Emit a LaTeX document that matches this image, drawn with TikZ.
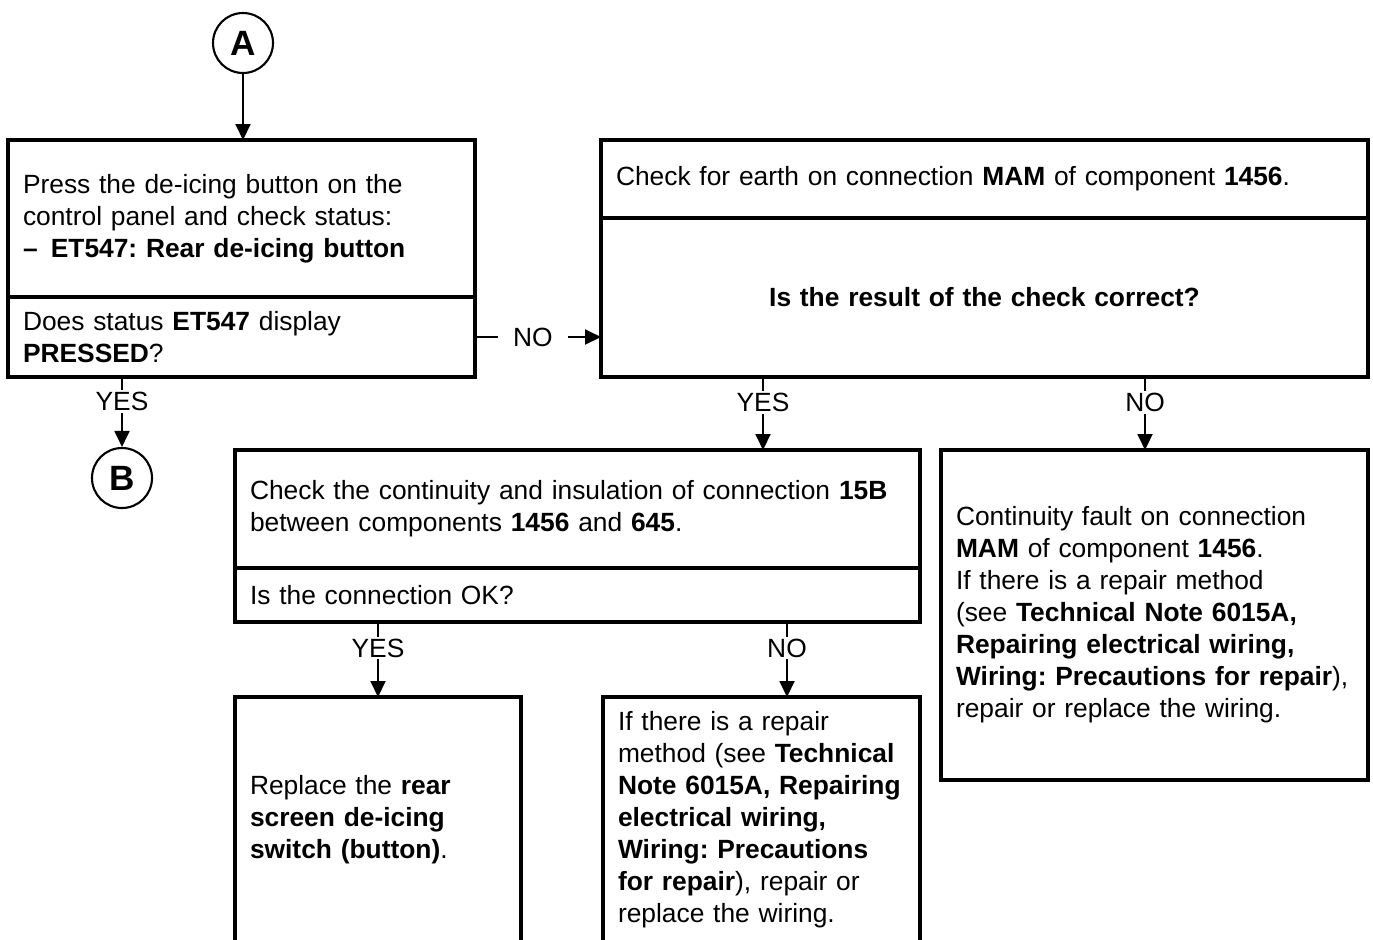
\documentclass[tikz,border=0pt]{standalone}
\usepackage{fontspec}
\setmainfont{Liberation Sans}
\usetikzlibrary{arrows.meta, positioning}
\newcommand\bodyfont{\fontsize{15pt}{18.2pt}\selectfont}
\frenchspacing

\begin{document}
\begin{tikzpicture}[
    stepbox/.style={draw, line width=1.8pt, outer sep=0pt, inner xsep=0.3cm, inner ysep=0pt, align=left, font=\bodyfont},
    conn/.style={draw, circle, line width=1.2pt, minimum size=1.2cm, inner sep=0pt, font=\fontsize{20pt}{20pt}\selectfont\bfseries},
    flow/.style={-{Triangle[length=3.2mm, width=3mm]}, line width=1.1pt},
    answer/.style={fill=white, inner xsep=0.3cm, inner ysep=1pt, font=\bodyfont, pos=.35},
]
\useasboundingbox (0,0) rectangle (27.46,-18.78);
\clip (0,0) rectangle (27.46,-18.78);

% Entry
\node[conn] (ptA) at (4.86,-0.86) {A};

% First test
\node[stepbox, anchor=north west, minimum width=9.34cm, minimum height=3.14cm, text width=8.74cm] (press) at (0.16,-2.8) {Press the de-icing button on the\\control panel and check status:\\\textbf{--\enspace ET547: Rear de-icing button}};
\node[stepbox, below=0pt of press, minimum width=9.34cm, minimum height=1.6cm, text width=8.74cm] (status) {Does status \textbf{ET547} display\\\textbf{PRESSED}?};

% Earth check
\node[stepbox, right=2.52cm of press.north east, anchor=north west, minimum width=15.34cm, minimum height=1.56cm, text width=14.74cm] (earth) {Check for earth on connection \textbf{MAM} of component \textbf{1456}.};
\node[stepbox, below=0pt of earth, minimum width=15.34cm, minimum height=3.18cm, text width=14.74cm, align=center] (result) {\textbf{Is the result of the check correct?}};

% Exit
\node[conn] (ptB) at (2.44,-9.56) {B};

% Wiring check
\node[stepbox, anchor=north west, minimum width=13.7cm, minimum height=2.36cm, text width=13.1cm] (cont) at (4.7,-9.0) {Check the continuity and insulation of connection \textbf{15B}\\between components \textbf{1456} and \textbf{645}.};
\node[stepbox, below=0pt of cont, minimum width=13.7cm, minimum height=1.08cm, text width=13.1cm] (connok) {Is the connection OK?};

\node[stepbox, right=0.42cm of cont.north east, anchor=north west, minimum width=8.54cm, minimum height=6.6cm, text width=7.94cm] (fault) {Continuity fault on connection\\\textbf{MAM} of component \textbf{1456}.\\If there is a repair method\\(see \textbf{Technical Note 6015A,}\\\textbf{Repairing electrical wiring,}\\\textbf{Wiring: Precautions for repair}),\\repair or replace the wiring.};

% Actions
\node[stepbox, below=1.5cm of connok.south west, anchor=north west, minimum width=5.72cm, minimum height=4.9cm, text width=5.12cm] (replace) {Replace the \textbf{rear}\\\textbf{screen de-icing}\\\textbf{switch (button)}.};
\node[stepbox, anchor=north west, minimum width=6.34cm, minimum height=4.9cm, text width=5.74cm] (repair) at (12.06,-13.94) {If there is a repair\\method (see \textbf{Technical}\\\textbf{Note 6015A, Repairing}\\\textbf{electrical wiring,}\\\textbf{Wiring: Precautions}\\\textbf{for repair}), repair or\\replace the wiring.};

% Flows
\coordinate (yesR) at ([xshift=3.24cm]result.south west);
\coordinate (noR) at ([xshift=-4.46cm]result.south east);
\coordinate (noC) at ([xshift=-2.66cm]connok.south east);

\draw[flow] (ptA) -- (ptA |- press.north);
\draw[flow] (status.south -| ptB) -- node[answer] {YES} (ptB);
\draw[flow] (status.east) -- node[answer, pos=.46] {NO} (status.east -| result.west);

\draw[flow] (yesR) -- node[answer] {YES} (yesR |- cont.north);
\draw[flow] (noR) -- node[answer] {NO} (noR |- fault.north);

\draw[flow] (connok.south -| replace) -- node[answer] {YES} (replace);
\draw[flow] (noC) -- node[answer] {NO} (noC |- repair.north);

\end{tikzpicture}
\end{document}
